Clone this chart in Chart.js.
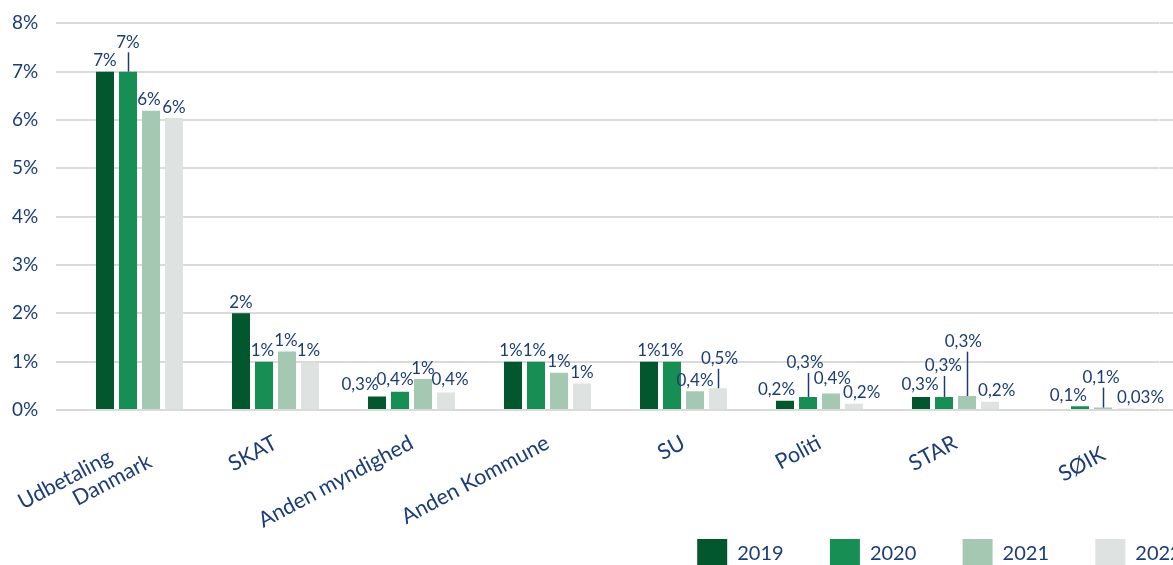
<!DOCTYPE html>
<html>
<head>
<meta charset="utf-8">
<script src="https://cdn.jsdelivr.net/npm/chart.js@4.4.1/dist/chart.umd.min.js"></script>
<style>
html,body{margin:0;padding:0;overflow:hidden;background:#fff;width:1173px;height:565px}
canvas{display:block}
</style>
</head>
<body>
<canvas id="c" width="1228" height="579"></canvas>
<script>
// ---- data ----
const categories = [["Udbetaling      ", "Danmark"], "SKAT", "Anden myndighed", "Anden Kommune", "SU", "Politi", "STAR", "SØIK"];
const years = ["2019", "2020", "2021", "2022"];
const v2019 = [7.0, 2.0, 0.28, 1.0, 1.0, 0.19, 0.27, null];
const v2020 = [7.0, 1.0, 0.38, 1.0, 1.0, 0.27, 0.27, 0.08];
const v2021 = [6.19, 1.21, 0.64, 0.77, 0.39, 0.34, 0.29, 0.05];
const v2022 = [6.04, 0.98, 0.36, 0.55, 0.45, 0.13, 0.17, 0.03];
const yTicks = [0, 1, 2, 3, 4, 5, 6, 7, 8];
// data label texts as printed on the chart
const t2019 = ["7%", "2%", "0,3%", "1%", "1%", "0,2%", "0,3%", ""];
const t2020 = ["7%", "1%", "0,4%", "1%", "1%", "0,3%", "0,3%", "0,1%"];
const t2021 = ["6%", "1%", "1%", "1%", "0,4%", "0,4%", "0,3%", "0,1%"];
const t2022 = ["6%", "1%", "0,4%", "1%", "0,5%", "0,2%", "0,2%", "0,03%"];

// ---- style ----
const NAVY = "#1c3c78";
const GRID = "#dadada";
const colors = ["#02572f", "#178f54", "#a5c8b3", "#dee3e2"];
const labelTexts = [t2019, t2020, t2021, t2022];
// manual label nudges (px) relative to default position above bar
const shiftX = [
  [0, 0, -17, -2, 0, -8.5, -1, 0],
  [0, -1.5, -5, -1.5, 0, -3, -0.7, -11.7],
  [-2, -1, 0, 0, 0, 1.3, -3.7, -2],
  [0, -1.5, 4, 0, 1.5, 7.7, 6.7, 14.5]
];
const shiftY = [
  [0, 0, -0.7, 0, 0, 0, -1, 0],
  [-18.3, 0, -0.7, 0, 0, -23, -20, 0],
  [0, 0, 0, -0.7, 0, -4.4, -43.3, -19],
  [0, -1, -1.7, 0, -18.5, 0, -0.7, -0.5]
];

Chart.defaults.font.family = "Lato";
Chart.defaults.color = NAVY;

const dataLabels = {
  id: "dataLabels",
  afterDatasetsDraw(chart) {
    const ctx = chart.ctx;
    ctx.save();
    ctx.font = "17px Lato";
    ctx.fillStyle = NAVY;
    ctx.strokeStyle = NAVY;
    ctx.lineWidth = 1.5;
    ctx.textAlign = "center";
    ctx.textBaseline = "middle";
    chart.data.datasets.forEach((ds, di) => {
      const meta = chart.getDatasetMeta(di);
      meta.data.forEach((bar, i) => {
        const txt = labelTexts[di][i];
        if (!txt) return;
        const dy = shiftY[di][i];
        const x = bar.x + shiftX[di][i];
        const y = bar.y - 11 + dy;
        ctx.fillText(txt, x, y);
        if (dy < -10) {
          ctx.beginPath();
          ctx.moveTo(Math.round(bar.x) + 0.5, y + 10);
          ctx.lineTo(Math.round(bar.x) + 0.5, bar.y);
          ctx.stroke();
        }
      });
    });
    ctx.restore();
  }
};

// let the rotated category labels run below the axis box (into the legend band)
const unclipLabels = {
  id: "unclipLabels",
  afterLayout(chart) {
    chart.scales.x.bottom = chart.height;
  }
};

const series = [v2019, v2020, v2021, v2022];

new Chart(document.getElementById("c"), {
  type: "bar",
  data: {
    labels: categories,
    datasets: years.map((y, i) => ({
      label: y,
      data: series[i],
      backgroundColor: colors[i],
      borderWidth: 0,
      categoryPercentage: 0.6765,
      barPercentage: 0.7826
    }))
  },
  options: {
    responsive: false,
    animation: false,
    events: [],
    layout: { padding: { top: 23.3, left: 0, right: 0, bottom: 0 } },
    plugins: {
      tooltip: { enabled: false },
      legend: {
        position: "bottom",
        align: "end",
        labels: {
          boxWidth: 30,
          boxHeight: 30,
          padding: 46.3,
          color: NAVY,
          font: { size: 20, family: "Lato" }
        }
      }
    },
    scales: {
      x: {
        grid: { display: false, drawTicks: false },
        border: { display: false },
        ticks: {
          color: NAVY,
          autoSkip: false,
          minRotation: 28,
          maxRotation: 28,
          padding: 20,
          font: (c) => ({ family: "Lato", size: 21.5, lineHeight: c.index === 7 ? 2.4 : (c.index === 0 ? 1.05 : 1.2) }),
          showLabelBackdrop: (c) => c.index === 7,
          backdropColor: "rgba(0,0,0,0)",
          backdropPadding: 0
        },
        afterFit: (a) => { a.height = 82.7; a.paddingLeft = 0; a.paddingRight = 0; }
      },
      y: {
        min: yTicks[0],
        max: yTicks[yTicks.length - 1],
        afterBuildTicks: (a) => { a.ticks = yTicks.map(v => ({ value: v })); },
        ticks: {
          color: NAVY,
          padding: 17.7,
          font: { size: 19, family: "Lato", lineHeight: 0.5 },
          callback: (v) => v + "%"
        },
        grid: { color: GRID, lineWidth: 2, drawTicks: true, tickLength: 15.5 },
        border: { display: false },
        afterFit: (a) => { a.width = 71.5; }
      },
      y2: {
        position: "right",
        min: yTicks[0],
        max: yTicks[yTicks.length - 1],
        afterBuildTicks: (a) => { a.ticks = yTicks.map(v => ({ value: v })); },
        ticks: { display: false },
        grid: { color: GRID, lineWidth: 2, drawOnChartArea: false, drawTicks: true, tickLength: 80 },
        border: { display: false },
        afterFit: (a) => { a.width = 68.5; }
      }
    }
  },
  plugins: [dataLabels, unclipLabels]
});
</script>
</body>
</html>
